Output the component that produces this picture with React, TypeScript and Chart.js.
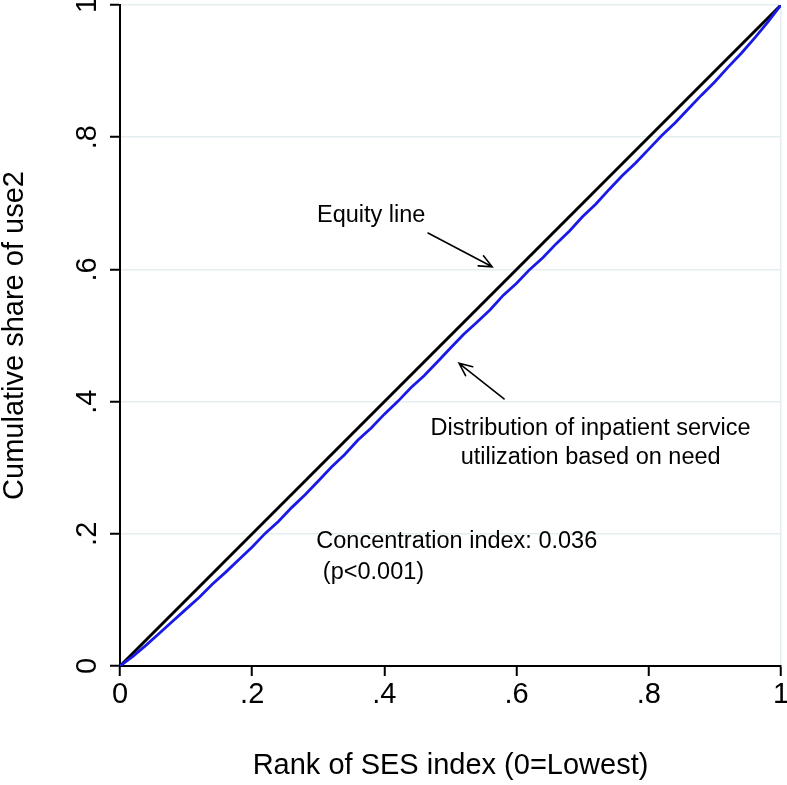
import React, { useEffect, useRef } from 'react';
import { Chart, registerables } from 'chart.js';

Chart.register(...registerables);

// Concentration curve (blue) — rank of SES index vs cumulative share of use2
const rankX = [0, 0.02, 0.04, 0.06, 0.08, 0.1, 0.12, 0.14, 0.16, 0.18, 0.2, 0.22, 0.24, 0.26, 0.28, 0.3, 0.32, 0.34, 0.36, 0.38, 0.4, 0.42, 0.44, 0.46, 0.48, 0.5, 0.52, 0.54, 0.56, 0.58, 0.6, 0.62, 0.64, 0.66, 0.68, 0.7, 0.72, 0.74, 0.76, 0.78, 0.8, 0.82, 0.84, 0.86, 0.88, 0.9, 0.92, 0.94, 0.96, 0.98, 1];
const cumShare = [0, 0.015, 0.032, 0.05, 0.068, 0.086, 0.104, 0.124, 0.142, 0.161, 0.18, 0.201, 0.219, 0.24, 0.259, 0.28, 0.301, 0.32, 0.342, 0.36, 0.381, 0.4, 0.421, 0.439, 0.46, 0.481, 0.502, 0.52, 0.539, 0.561, 0.579, 0.6, 0.618, 0.639, 0.658, 0.68, 0.699, 0.721, 0.742, 0.761, 0.782, 0.803, 0.822, 0.843, 0.864, 0.884, 0.906, 0.927, 0.95, 0.974, 1];

// Equity line (black)
const equityX = [0, 1];
const equityY = [0, 1];

const xTickLabels = ['0', '.2', '.4', '.6', '.8', '1'];
const yTickLabels = ['0', '.2', '.4', '.6', '.8', '1'];

const xTitle = 'Rank of SES index (0=Lowest)';
const yTitle = 'Cumulative share of use2';

// Text notes in data coordinates
const noteTexts = ['Equity line', 'Distribution of inpatient service', 'utilization based on need', 'Concentration index: 0.036', ' (p<0.001)'];
const noteX = [0.298, 0.712, 0.712, 0.297, 0.297];
const noteY = [0.682, 0.359, 0.315, 0.188, 0.142];
const noteAlign = ['left', 'center', 'center', 'left', 'left'];

// Arrows [from -> to] in data coordinates
const arrowFromX = [0.466, 0.581];
const arrowFromY = [0.655, 0.404];
const arrowToX = [0.563, 0.513];
const arrowToY = [0.604, 0.458];

const FONT = '"Liberation Sans", Arial, Helvetica, sans-serif';
const GRID = '#e4eef0';

const notesPlugin = {
  id: 'notes',
  afterDatasetsDraw(chart: any) {
    const { ctx, scales } = chart;
    const xs = scales.x;
    const ys = scales.y;
    ctx.save();
    ctx.fillStyle = '#000';
    ctx.font = `23.5px ${FONT}`;
    ctx.textBaseline = 'middle';
    noteTexts.forEach((t, i) => {
      ctx.textAlign = noteAlign[i];
      ctx.fillText(t, xs.getPixelForValue(noteX[i]), ys.getPixelForValue(noteY[i]));
    });
    ctx.strokeStyle = '#000';
    ctx.lineWidth = 1.6;
    ctx.lineCap = 'round';
    arrowFromX.forEach((_, i) => {
      const x0 = xs.getPixelForValue(arrowFromX[i]);
      const y0 = ys.getPixelForValue(arrowFromY[i]);
      const x1 = xs.getPixelForValue(arrowToX[i]);
      const y1 = ys.getPixelForValue(arrowToY[i]);
      const ang = Math.atan2(y1 - y0, x1 - x0);
      const len = 14;
      const spread = 0.42;
      ctx.beginPath();
      ctx.moveTo(x0, y0);
      ctx.lineTo(x1, y1);
      ctx.moveTo(x1 - len * Math.cos(ang - spread), y1 - len * Math.sin(ang - spread));
      ctx.lineTo(x1, y1);
      ctx.lineTo(x1 - len * Math.cos(ang + spread), y1 - len * Math.sin(ang + spread));
      ctx.stroke();
    });
    ctx.restore();
  },
};

export default function App() {
  const ref = useRef<HTMLCanvasElement | null>(null);

  useEffect(() => {
    if (!ref.current) return;
    const chart = new Chart(ref.current, {
      type: 'scatter',
      data: {
        datasets: [
          {
            label: 'Concentration curve',
            data: rankX.map((x, i) => ({ x, y: cumShare[i] })),
            showLine: true,
            borderColor: '#1a1ae6',
            borderWidth: 2.8,
            pointRadius: 0,
            tension: 0,
          },
          {
            label: 'Equity line',
            data: equityX.map((x, i) => ({ x, y: equityY[i] })),
            showLine: true,
            borderColor: '#000000',
            borderWidth: 3,
            pointRadius: 0,
          },
        ],
      },
      options: {
        animation: false,
        responsive: false,
        devicePixelRatio: 1,
        layout: { padding: { top: 5, right: 6, left: 0, bottom: 0 } },
        plugins: {
          legend: { display: false },
          tooltip: { enabled: false },
        },
        scales: {
          x: {
            type: 'linear',
            min: 0,
            max: 1,
            afterFit: (s: any) => {
              s.height = 119;
              s.paddingLeft = 0;
              s.paddingRight = 0;
            },
            ticks: {
              stepSize: 0.2,
              padding: 2,
              color: '#000',
              font: { family: FONT, size: 29 },
              maxRotation: 0,
              callback: (_v: any, i: number) => xTickLabels[i],
            },
            grid: {
              color: (c: any) => (c.tick && Math.abs(c.tick.value - 1) < 1e-6 ? GRID : 'rgba(0,0,0,0)'),
              lineWidth: 1.5,
              tickColor: '#000',
              tickLength: 10,
              tickWidth: 2,
            },
            border: { color: '#000', width: 2 },
            title: {
              display: true,
              text: xTitle,
              color: '#000',
              font: { family: FONT, size: 29, lineHeight: 1 },
              padding: { top: 0, bottom: 5 },
            },
          },
          y: {
            type: 'linear',
            min: 0,
            max: 1,
            afterFit: (s: any) => {
              s.width = 120;
              s.paddingTop = 0;
              s.paddingBottom = 0;
            },
            ticks: {
              stepSize: 0.2,
              padding: 10,
              color: '#000',
              minRotation: 90,
              maxRotation: 90,
              crossAlign: 'center',
              font: { family: FONT, size: 29 },
              callback: (_v: any, i: number) => yTickLabels[i],
            },
            grid: {
              color: (c: any) => (c.tick && c.tick.value > 1e-6 ? GRID : 'rgba(0,0,0,0)'),
              lineWidth: 1.5,
              tickColor: '#000',
              tickLength: 10,
              tickWidth: 2,
            },
            border: { color: '#000', width: 2 },
            title: {
              display: true,
              text: yTitle,
              color: '#000',
              font: { family: FONT, size: 29, lineHeight: 1 },
              padding: { top: 0, bottom: 0 },
            },
          },
        },
      },
      plugins: [notesPlugin],
    });
    return () => chart.destroy();
  }, []);

  return (
    <div style={{ position: 'absolute', left: 0, top: 0, width: 787, height: 785, background: '#fff' }}>
      <canvas ref={ref} width={787} height={785} style={{ display: 'block' }} />
    </div>
  );
}
